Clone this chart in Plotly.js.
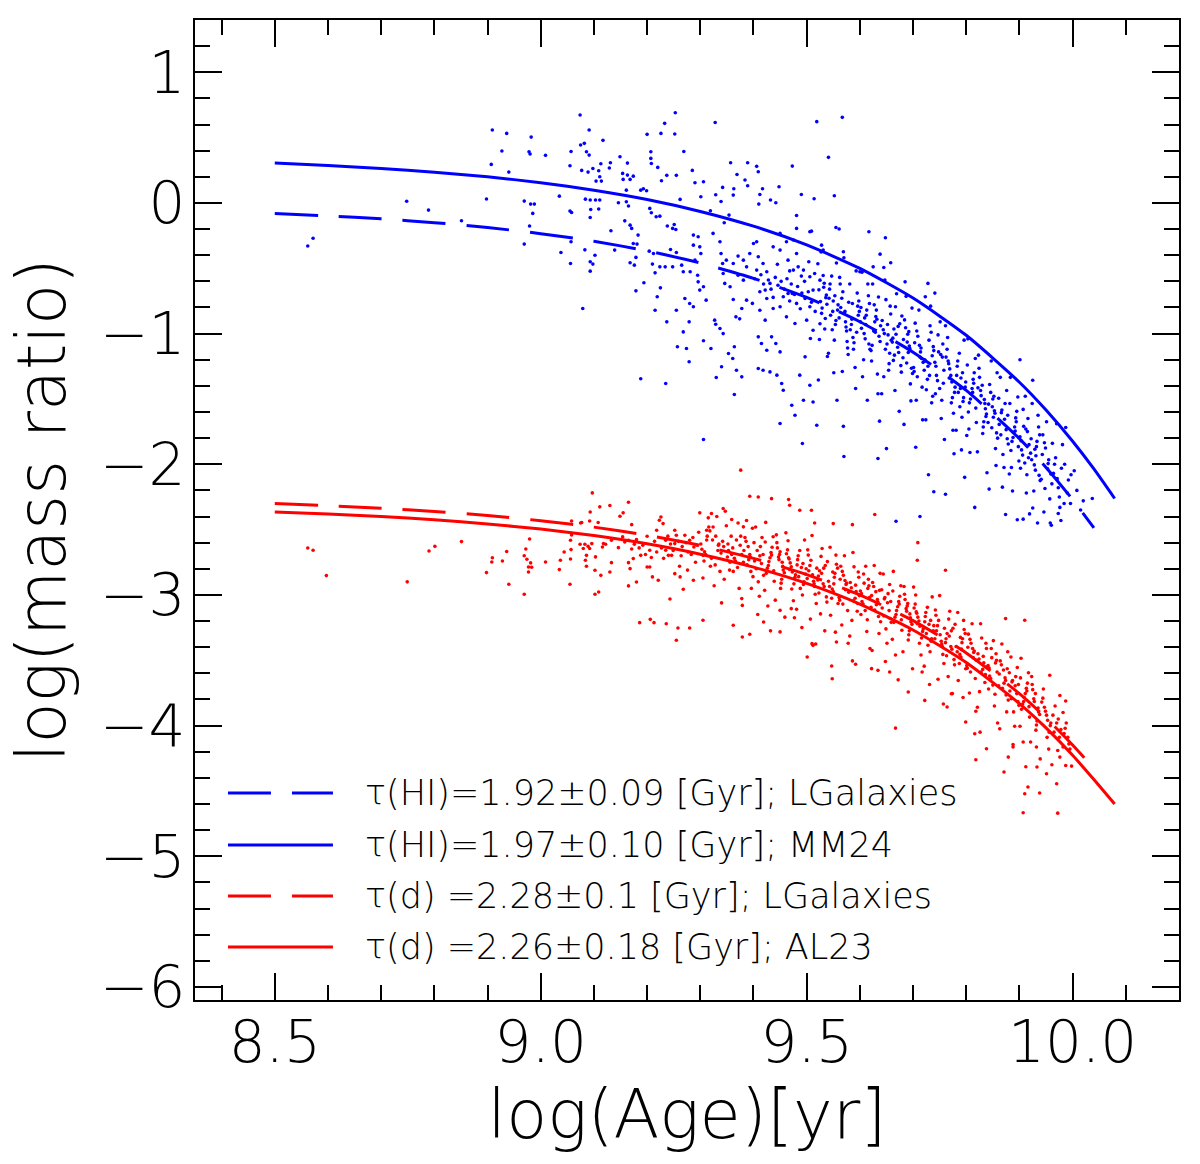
<!DOCTYPE html>
<html>
<head>
<meta charset="utf-8">
<script src="https://cdn.plot.ly/plotly-3.0.1.min.js"></script>
<style>
  html, body { margin: 0; padding: 0; background: #fff; }
  #chart { width: 1200px; height: 1164px; }
</style>
</head>
<body>
<div id="chart"></div>
<script>
// ----------------------------------------------------------
// model curves
// ----------------------------------------------------------

const blueSolidAge = [8.5,8.6,8.7,8.8,8.9,9.0,9.1,9.2,9.3,9.4,9.5,9.6,9.7,9.8,9.9,9.95,10.0,10.04,10.079];
const blueSolidRatio = [0.305,0.287,0.264,0.235,0.2,0.155,0.097,0.026,-0.065,-0.178,-0.321,-0.501,-0.728,-1.013,-1.372,-1.585,-1.824,-2.036,-2.262];

const blueDashAge = [8.5,8.6,8.7,8.8,8.9,9.0,9.1,9.2,9.3,9.4,9.5,9.6,9.7,9.8,9.9,9.95,10.0,10.04];
const blueDashRatio = [-0.08,-0.099,-0.122,-0.151,-0.188,-0.235,-0.293,-0.367,-0.46,-0.577,-0.723,-0.909,-1.142,-1.435,-1.804,-2.024,-2.27,-2.487];

const redSolidAge = [8.5,8.6,8.7,8.8,8.9,9.0,9.1,9.2,9.3,9.4,9.5,9.6,9.7,9.8,9.9,9.95,10.0,10.04,10.079];
const redSolidRatio = [-2.365,-2.381,-2.40,-2.425,-2.457,-2.496,-2.546,-2.609,-2.688,-2.787,-2.912,-3.07,-3.268,-3.517,-3.832,-4.018,-4.227,-4.413,-4.60];

const redDashAge = [8.5,8.6,8.7,8.8,8.9,9.0,9.1,9.2,9.3,9.4,9.5,9.6,9.7,9.8,9.9,9.95,10.0,10.032];
const redDashRatio = [-2.301,-2.317,-2.337,-2.361,-2.392,-2.432,-2.481,-2.543,-2.621,-2.72,-2.844,-3.0,-3.197,-3.444,-3.756,-3.941,-4.148,-4.292];

const legendLabels = [
    "τ(HI)=1.92±0.09 [Gyr]; LGalaxies",
    "τ(HI)=1.97±0.10 [Gyr]; MM24",
    "τ(d) =2.28±0.1 [Gyr]; LGalaxies",
    "τ(d) =2.26±0.18 [Gyr]; AL23"
];

// ----------------------------------------------------------
// galaxies: [log(Age), log(mass ratio)]
// ----------------------------------------------------------

const bluePts = [
[8.562,-0.33],[8.572,-0.27],[8.748,0.013],[8.789,-0.055],[8.851,-0.136],[8.898,0.03],[8.909,0.558],[8.936,0.532],[8.927,0.397],[8.907,0.295],[8.94,0.236],[8.982,0.504],[8.978,0.392],[8.98,0.374],[9.009,0.364],[8.969,-0.315],[8.969,0.014],[8.981,-0.009],[8.988,-0.009],[8.985,-0.08],[8.979,-0.177],
[9.074,0.673],[9.091,0.558],[9.075,0.443],[9.082,0.456],[9.057,0.394],[9.086,0.392],[9.091,0.366],[9.117,0.479],[9.055,0.285],[9.077,0.249],[9.089,0.236],[9.098,0.264],[9.109,0.246],[9.104,0.167],[9.111,0.2],[9.114,0.167],[9.113,0.3],[9.131,0.308],[9.129,0.267],[9.149,0.354],[9.163,0.305],[9.154,0.226],[9.163,0.213],[9.174,0.205],[9.155,0.18],[9.168,0.18],[9.161,0.098],[9.188,0.098],[9.193,0.108],[9.199,0.093],[9.2,0.525],[9.226,0.532],[9.252,0.527],[9.233,0.609],[9.253,0.69],[9.207,0.392],[9.207,0.341],[9.208,0.302],[9.22,0.272],[9.237,0.211],[9.227,0.17],[9.255,0.211],[9.269,0.394],[9.285,0.249],[9.29,0.154],[9.306,0.162],[9.328,0.616],
[9.262,0.027],[9.301,0.047],[9.329,0.063],[9.342,0.119],[9.357,0.308],[9.389,0.308],[9.406,0.28],[9.409,0.239],[9.369,0.218],[9.384,0.175],[9.389,0.131],[9.363,0.109],[9.362,0.06],[9.417,0.109],[9.412,0.065],[9.432,0.022],[9.448,0.124],[9.473,0.282],[9.49,0.065],[9.481,-0.096],[9.514,0.032],[9.519,0.622],
[9.035,0.052],[9.055,-0.062],[9.058,-0.073],[9.057,-0.297],[9.038,-0.379],[9.056,-0.463],[9.084,0.029],[9.093,0.022],[9.103,0.022],[9.111,0.022],[9.094,-0.05],[9.109,-0.047],[9.093,-0.111],[9.083,-0.359],[9.102,-0.4],[9.093,-0.45],[9.098,-0.468],[9.093,-0.522],[9.079,-0.808],
[9.132,-0.213],[9.146,0.001],[9.161,0.009],[9.165,-0.024],[9.158,-0.137],[9.168,-0.17],[9.171,-0.195],[9.183,-0.246],[9.174,-0.31],[9.181,-0.315],[9.168,-0.458],[9.176,-0.476],[9.179,-0.417],[9.139,-0.361],
[9.179,-0.673],[9.194,-0.611],[9.188,-1.346],[9.204,-0.369],[9.212,-0.387],[9.205,-0.042],[9.208,-0.075],[9.217,-0.106],[9.224,-0.101],
[9.21,-0.468],[9.215,-0.535],[9.224,-0.489],[9.234,-0.489],[9.225,-0.65],[9.219,-0.718],[9.215,-0.821],[9.237,-0.91],[9.235,-1.382],[9.248,-0.195],[9.254,-0.203],[9.251,-0.165],[9.238,-0.177],
[9.244,-0.356],[9.255,-0.379],[9.268,-0.527],[9.265,-0.476],[9.248,-0.489],[9.255,-0.821],[9.271,-0.731],[9.28,-0.77],[9.279,-0.91],[9.268,-0.987],[9.257,-1.101],[9.274,-1.114],[9.279,-1.216],
[9.287,-0.246],[9.296,-0.259],[9.287,-0.323],[9.299,-0.336],[9.301,-0.387],[9.29,-0.438],[9.281,-0.527],[9.295,-0.553],[9.296,-0.604],[9.306,-0.642],[9.299,-0.667],[9.311,-0.744],[9.287,-0.795],
[9.306,-1.055],[9.32,-1.114],[9.306,-1.811],[9.33,-1.336],
[9.324,-0.233],[9.337,-0.297],[9.339,-0.387],[9.342,-0.463],[9.349,-0.438],[9.362,-0.463],[9.371,-0.407],[9.381,-0.438],[9.387,-0.489],[9.371,-0.553],[9.381,-0.591],[9.343,-0.54],[9.346,-0.616],[9.356,-0.642],
[9.362,-0.739],[9.378,-0.808],[9.387,-0.744],[9.398,-0.769],[9.367,-0.872],[9.374,-0.887],[9.327,-0.897],[9.329,-0.928],[9.337,-0.961],[9.343,-1.0],[9.364,-1.101],[9.353,-1.152],[9.361,-1.191],[9.368,-1.28],[9.378,-1.331],[9.34,-1.254],[9.364,-1.466],
[9.4,-0.31],[9.406,-0.297],[9.393,-0.387],[9.409,-0.412],[9.418,-0.463],[9.406,-0.514],[9.425,-0.527],[9.431,-0.616],[9.422,-0.667],[9.412,-0.68],[9.425,-0.731],[9.437,-0.723],[9.412,-0.821],[9.422,-0.897],[9.437,-0.808],[9.45,-0.795],[9.456,-0.718],[9.465,-0.693],
[9.409,-1.025],[9.415,-1.076],[9.425,-1.127],[9.434,-1.025],[9.442,-1.076],[9.45,-1.14],[9.409,-1.267],[9.418,-1.28],[9.431,-1.293],[9.444,-1.318],[9.453,-1.382],[9.456,-1.433],[9.45,-1.688],[9.478,-1.625],[9.472,-1.548],[9.494,-1.51],[9.506,-1.395],[9.487,-1.318],[9.497,-1.178],[9.507,-1.037],[9.512,-1.523],[9.492,-1.841],[9.519,-1.701],
[9.437,-0.336],[9.45,-0.361],[9.462,-0.297],[9.481,-0.387],[9.475,-0.514],[9.465,-0.438],[9.484,-0.489],[9.494,-0.514],[9.506,-0.565],[9.515,-0.54],[9.525,-0.591],[9.473,-0.693],[9.481,-0.769],[9.497,-0.731],[9.506,-0.795],[9.512,-0.667],[9.462,-0.872],[9.478,-0.923],[9.5,-0.897],[9.512,-0.974],
[9.475,-0.284],[9.45,-0.233],[9.506,-0.221],[9.481,-0.195],
[9.402,-0.58],[9.414,-0.55],[9.419,-0.62],[9.428,-0.59],[9.433,-0.66],[9.441,-0.57],[9.446,-0.63],[9.452,-0.6],[9.458,-0.66],[9.463,-0.58],[9.468,-0.75],[9.471,-0.62],[9.477,-0.7],[9.483,-0.64],[9.488,-0.81],[9.491,-0.69],[9.496,-0.6],[9.503,-0.68],[9.509,-0.76],[9.516,-0.83],[9.445,-0.47],[9.468,-0.52],[9.49,-0.56],[9.504,-0.45],
[9.541,0.349],[9.567,0.655],[9.552,0.055],[9.509,-0.216],[9.555,-0.188],[9.617,-0.221],[9.648,-0.267],[9.638,-0.392],[9.658,-0.458],[9.625,-0.489],[9.645,-0.494],[9.685,-0.604],[9.728,-0.616],[9.723,-0.718],[9.569,-0.374],[9.6,-0.527],[9.528,-0.323],[9.531,-0.361],[9.319,-0.06],[9.354,-0.093],[9.345,-0.152],[9.339,0.011],[9.41,-0.009],[9.442,0.001],
[9.57,-1.94],[9.634,-1.956],[9.668,-2.436],[9.713,-2.4],[9.739,-2.21],[9.761,-2.23],[9.907,-2.42],[9.96,-2.467],[9.973,-2.377],[9.925,-1.357],[9.901,-1.2],[9.741,-0.69],[9.561,-0.2],
[9.533,-0.615],[9.524,-1.045],[9.537,-0.705],[9.529,-0.805],[9.521,-0.465],[9.535,-0.885],[9.526,-0.755],[9.531,-0.555],[9.539,-1.175],[9.523,-0.665],[9.528,-0.845],[9.534,-0.965],[9.527,-0.375],[9.538,-0.775],[9.522,-1.355],[9.532,-0.645],[9.525,-0.925],[9.536,-0.725],
[9.558,-0.82],[9.547,-0.56],[9.552,-1.05],[9.543,-0.66],[9.555,-0.9],[9.55,-0.75],[9.541,-1.15],[9.556,-0.46],[9.545,-0.86],[9.553,-0.71],[9.548,-0.97],[9.559,-0.78],[9.544,-0.62],[9.551,-1.3],[9.554,-0.93],[9.542,-0.73],[9.557,-1.51],[9.549,-0.83],
[9.566,-0.73],[9.575,-0.98],[9.562,-0.57],[9.571,-0.84],[9.578,-1.16],[9.568,-0.68],[9.573,-0.91],[9.564,-0.8],[9.576,-1.06],[9.57,-0.42],[9.561,-0.88],[9.579,-0.76],[9.567,-1.29],[9.574,-0.95],[9.563,-0.62],[9.572,-0.83],[9.577,-1.11],[9.569,-1.71],
[9.582,-0.97],[9.596,-0.79],[9.589,-1.07],[9.593,-0.52],[9.585,-0.89],[9.598,-0.75],[9.591,-1.26],[9.584,-0.93],[9.595,-0.69],[9.587,-1.03],[9.599,-0.83],[9.592,-1.42],[9.581,-0.62],[9.588,-1.12],[9.597,-0.86],[9.586,-0.77],[9.594,-0.99],
[9.618,-0.77],[9.607,-1.2],[9.612,-0.86],[9.603,-0.96],[9.615,-0.62],[9.61,-1.04],[9.601,-0.91],[9.616,-0.71],[9.605,-1.33],[9.613,-0.82],[9.608,-1.0],[9.619,-1.12],[9.604,-0.53],[9.611,-0.93],[9.614,-1.51],[9.602,-0.8],[9.617,-1.08],[9.609,-0.88],
[9.626,-0.98],[9.635,-0.72],[9.622,-1.21],[9.631,-0.82],[9.638,-1.06],[9.628,-0.91],[9.633,-1.31],[9.624,-0.62],[9.636,-1.02],[9.63,-0.87],[9.621,-1.13],[9.639,-0.94],[9.627,-0.78],[9.634,-1.46],[9.623,-1.09],[9.632,-0.89],[9.637,-1.67],[9.629,-0.99],
[9.642,-0.9],[9.656,-1.15],[9.649,-0.74],[9.653,-1.01],[9.645,-1.33],[9.658,-0.85],[9.651,-1.08],[9.644,-0.97],[9.655,-1.23],[9.647,-0.59],[9.659,-1.05],[9.652,-0.93],[9.641,-1.46],[9.648,-1.12],[9.657,-0.79],[9.646,-1.0],[9.654,-1.28],[9.65,-1.88],
[9.673,-1.145],[9.664,-0.965],[9.677,-1.245],[9.669,-0.695],[9.661,-1.065],[9.675,-0.925],[9.666,-1.435],[9.671,-1.105],[9.679,-0.865],[9.663,-1.205],[9.668,-1.005],[9.674,-1.595],[9.667,-0.795],[9.678,-1.295],[9.662,-1.035],[9.672,-0.945],[9.665,-1.165],
[9.686,-0.955],[9.695,-1.385],[9.682,-1.045],[9.691,-1.145],[9.698,-0.805],[9.688,-1.225],[9.693,-1.095],[9.684,-0.895],[9.696,-1.515],[9.69,-1.005],[9.681,-1.185],[9.699,-1.305],[9.687,-0.715],[9.694,-1.115],[9.683,-1.695],[9.692,-0.985],[9.697,-1.265],[9.689,-1.065],
[9.713,-1.18],[9.704,-0.92],[9.717,-1.41],[9.709,-1.02],[9.701,-1.26],[9.715,-1.11],[9.706,-1.51],[9.711,-0.82],[9.719,-1.22],[9.703,-1.07],[9.708,-1.33],[9.714,-1.14],[9.707,-0.98],[9.718,-1.66],[9.702,-1.29],[9.712,-1.09],[9.705,-1.87],[9.716,-1.19],
[9.738,-1.1],[9.727,-1.35],[9.732,-0.94],[9.723,-1.21],[9.735,-1.53],[9.73,-1.05],[9.721,-1.28],[9.736,-1.17],[9.725,-1.43],[9.733,-0.79],[9.728,-1.25],[9.739,-1.13],[9.724,-1.66],[9.731,-1.32],[9.734,-0.99],[9.722,-1.2],[9.737,-1.48],[9.729,-2.08],
[9.746,-1.36],[9.755,-1.18],[9.742,-1.46],[9.751,-0.91],[9.758,-1.28],[9.748,-1.14],[9.753,-1.65],[9.744,-1.32],[9.756,-1.08],[9.75,-1.42],[9.741,-1.22],[9.759,-1.81],[9.747,-1.01],[9.754,-1.51],[9.743,-1.25],[9.752,-1.16],[9.757,-1.38],
[9.762,-1.18],[9.776,-1.61],[9.769,-1.27],[9.773,-1.37],[9.765,-1.03],[9.778,-1.45],[9.771,-1.32],[9.764,-1.12],[9.775,-1.74],[9.767,-1.23],[9.779,-1.41],[9.772,-1.53],[9.761,-0.94],[9.768,-1.34],[9.777,-1.92],[9.766,-1.21],[9.774,-1.49],
[9.798,-1.41],[9.787,-1.15],[9.792,-1.64],[9.783,-1.25],[9.795,-1.49],[9.79,-1.34],[9.781,-1.74],[9.796,-1.05],[9.785,-1.45],[9.793,-1.3],[9.788,-1.56],[9.799,-1.37],[9.784,-1.21],[9.791,-1.89],[9.794,-1.52],[9.782,-1.32],[9.797,-2.1],[9.789,-1.42],
[9.813,-1.35],[9.804,-1.6],[9.817,-1.19],[9.809,-1.46],[9.801,-1.78],[9.815,-1.3],[9.806,-1.53],[9.811,-1.42],[9.819,-1.68],[9.803,-1.04],[9.808,-1.5],[9.814,-1.38],[9.807,-1.91],[9.818,-1.57],[9.802,-1.24],[9.812,-1.45],[9.805,-1.73],[9.816,-2.33],
[9.838,-1.615],[9.827,-1.435],[9.832,-1.715],[9.823,-1.165],[9.835,-1.535],[9.83,-1.395],[9.821,-1.905],[9.836,-1.575],[9.825,-1.335],[9.833,-1.675],[9.828,-1.475],[9.839,-2.065],[9.824,-1.265],[9.831,-1.765],[9.834,-1.505],[9.822,-1.415],[9.837,-1.635],
[9.846,-1.45],[9.855,-1.88],[9.842,-1.54],[9.851,-1.64],[9.858,-1.3],[9.848,-1.72],[9.853,-1.59],[9.844,-1.39],[9.856,-2.01],[9.85,-1.5],[9.841,-1.68],[9.859,-1.8],[9.847,-1.21],[9.854,-1.61],[9.843,-2.19],[9.852,-1.48],[9.857,-1.76],[9.849,-1.56],
[9.862,-1.695],[9.876,-1.435],[9.869,-1.925],[9.873,-1.535],[9.865,-1.775],[9.878,-1.625],[9.871,-2.025],[9.864,-1.335],[9.875,-1.735],[9.867,-1.585],[9.879,-1.845],[9.872,-1.655],[9.861,-1.495],[9.868,-2.175],[9.877,-1.805],[9.866,-1.605],[9.874,-2.385],
[9.893,-1.645],[9.884,-1.895],[9.897,-1.485],[9.889,-1.755],[9.881,-2.075],[9.895,-1.595],[9.886,-1.825],[9.891,-1.715],[9.899,-1.975],[9.883,-1.335],[9.888,-1.795],[9.894,-1.675],[9.887,-2.205],[9.898,-1.865],[9.882,-1.535],[9.892,-1.745],[9.885,-2.025],[9.896,-2.425],
[9.906,-1.93],[9.915,-1.75],[9.902,-2.03],[9.911,-1.48],[9.918,-1.85],[9.908,-1.71],[9.913,-2.22],[9.904,-1.89],[9.916,-1.65],[9.91,-1.99],[9.901,-1.79],[9.919,-2.38],[9.907,-1.58],[9.914,-2.08],[9.903,-1.82],[9.912,-1.73],[9.917,-1.95],
[9.938,-1.775],[9.927,-2.205],[9.932,-1.865],[9.923,-1.965],[9.935,-1.625],[9.93,-2.045],[9.921,-1.915],[9.936,-1.715],[9.925,-2.335],[9.933,-1.825],[9.928,-2.005],[9.939,-2.125],[9.924,-1.535],[9.931,-1.935],[9.934,-2.45],[9.922,-1.805],[9.937,-2.085],[9.929,-1.885],
[9.953,-2.035],[9.944,-1.775],[9.957,-2.265],[9.949,-1.875],[9.941,-2.115],[9.955,-1.965],[9.946,-2.365],[9.951,-1.675],[9.959,-2.075],[9.943,-1.925],[9.948,-2.185],[9.954,-1.995],[9.947,-1.835],[9.958,-2.45],
[9.966,-2.0],[9.975,-2.25],[9.962,-1.84],[9.971,-2.11],[9.978,-2.43],[9.968,-1.95],[9.973,-2.18],[9.964,-2.07],[9.976,-2.33],[9.97,-1.69],[9.961,-2.15],[9.979,-2.03],
[9.981,-1.85],[9.985,-2.0],[9.992,-2.12],[9.99,-2.22],[9.996,-2.3],[10.003,-2.05],[10.008,-2.2],[10.015,-2.35],[10.02,-2.28],[10.037,-2.262],[9.987,-1.719],[9.984,-2.3],[9.997,-2.08]
];

const redPts = [
[8.562,-2.641],[8.572,-2.658],[8.597,-2.852],[8.749,-2.9],[8.79,-2.664],[8.801,-2.628],[8.851,-2.592],[8.898,-2.829],[8.908,-2.748],[8.909,-2.715],[8.928,-2.74],[8.936,-2.668],[8.94,-2.918],[8.969,-2.7],[8.969,-2.995],[8.972,-2.648],[8.974,-2.727],[8.977,-2.786],[8.977,-2.824],[8.979,-2.572],[8.981,-2.755],[8.983,-2.788],[9.009,-2.748],[9.035,-2.806],[9.037,-2.735],[9.044,-2.671],[9.055,-2.918],[9.056,-2.582],[9.058,-2.541],[9.058,-2.434],[9.056,-2.725],[9.057,-2.653],
[9.075,-2.449],[9.077,-2.446],[9.092,-2.434],[9.093,-2.365],[9.097,-2.219],[9.108,-2.446],[9.111,-2.326],[9.13,-2.316],[9.149,-2.398],[9.155,-2.372],[9.165,-2.291],[9.171,-2.462],[9.074,-2.612],[9.083,-2.612],[9.089,-2.628],[9.096,-2.607],[9.08,-2.645],[9.086,-2.697],[9.092,-2.645],[9.103,-2.709],[9.084,-2.735],[9.086,-2.781],[9.102,-2.811],[9.113,-2.85],[9.102,-2.995],[9.109,-2.977],
[9.116,-2.633],[9.122,-2.612],[9.133,-2.582],[9.118,-2.607],[9.133,-2.753],[9.13,-2.824],[9.146,-2.638],[9.158,-2.594],[9.154,-2.556],[9.165,-2.582],[9.171,-2.648],[9.176,-2.612],[9.165,-2.753],[9.174,-2.722],[9.168,-2.799],[9.165,-2.931],[9.18,-2.577],[9.188,-2.697],[9.2,-2.551],[9.205,-2.658],[9.208,-2.714],[9.218,-2.671],[9.223,-2.429],[9.226,-2.403],[9.218,-2.505],[9.23,-2.454],[9.235,-2.582],[9.235,-2.658],[9.246,-2.697],[9.252,-2.607],[9.255,-2.543],[9.252,-2.505],[9.271,-2.543],[9.28,-2.582],[9.277,-2.671],[9.288,-2.633],[9.2,-2.786],[9.21,-2.862],[9.221,-2.888],[9.252,-2.837],[9.262,-2.862],[9.268,-2.957],[9.243,-3.031],[9.186,-3.212],[9.206,-3.187],[9.213,-3.212],[9.236,-3.22],[9.255,-3.347],[9.258,-3.253],[9.28,-3.253],[9.24,-2.697],[9.205,-2.786],[9.18,-2.901],
[9.192,-2.62],[9.197,-2.69],[9.214,-2.59],[9.227,-2.64],[9.231,-2.72],[9.244,-2.61],[9.249,-2.66],[9.259,-2.59],[9.264,-2.7],[9.266,-2.63],[9.273,-2.6],[9.283,-2.69],[9.286,-2.56],[9.291,-2.75],[9.294,-2.62],[9.297,-2.52],[9.185,-2.64],[9.239,-2.55],[9.261,-2.78],[9.276,-2.81],
[9.376,-2.045],[9.393,-2.245],[9.409,-2.25],[9.434,-2.263],[9.466,-2.27],[9.628,-2.385],[9.709,-2.6],[9.761,-2.811],[9.91,-3.194],[9.957,-3.615],[9.987,-3.812],[9.305,-3.194],[9.379,-3.322],[9.501,-3.475],[9.548,-3.641],[9.667,-4.019],[9.818,-4.261],[9.907,-4.667],[9.972,-4.67],[9.871,-4.355],[9.586,-2.462],[9.708,-2.735],[9.874,-3.181],[9.91,-4.521],[9.938,-4.516],[9.97,-4.445],[9.987,-4.305],[9.951,-4.368],[9.933,-4.317],[9.916,-4.47],[9.888,-4.164],[9.932,-4.164],[9.816,-4.062],[9.838,-4.177],[9.879,-4.241],[9.976,-4.241],[9.982,-4.164],[9.764,-3.858],[9.799,-3.973],[9.722,-3.807],[9.772,-3.756],[9.691,-3.743],[9.656,-3.59],[9.634,-3.577],[9.547,-3.544],[9.592,-3.531],[9.622,-3.564],[9.512,-3.386],[9.45,-3.283],[9.393,-3.301],[9.362,-3.232],[9.34,-3.061],[9.378,-3.028],[9.419,-3.207],[9.45,-3.118],[9.51,-3.373],[9.556,-3.36],[9.471,-3.105],[9.305,-2.697],[9.287,-2.888],[9.312,-2.505],[9.343,-2.339],[9.299,-2.372],[9.321,-2.377],[9.359,-2.423],[9.381,-2.479],[9.468,-2.314],[9.487,-2.352],[9.509,-2.352],[9.55,-2.454],[9.515,-2.449],
[9.318,-2.51],[9.307,-2.74],[9.312,-2.58],[9.303,-2.65],[9.315,-2.41],[9.31,-2.69],[9.301,-2.61],[9.316,-2.48],[9.305,-2.87],[9.313,-2.55],[9.308,-2.67],[9.319,-2.78],
[9.333,-2.66],[9.324,-2.48],[9.337,-2.82],[9.329,-2.55],[9.321,-2.72],[9.335,-2.61],[9.326,-2.93],[9.331,-2.4],[9.339,-2.68],[9.323,-2.58],[9.328,-2.77],[9.334,-2.62],
[9.342,-2.59],[9.356,-2.75],[9.349,-2.47],[9.353,-2.66],[9.345,-2.88],[9.358,-2.55],[9.351,-2.71],[9.344,-2.63],[9.355,-2.81],[9.347,-2.36],[9.359,-2.69],[9.352,-2.61],
[9.366,-2.74],[9.375,-2.62],[9.362,-2.82],[9.371,-2.45],[9.378,-2.69],[9.368,-2.58],[9.373,-2.95],[9.364,-2.72],[9.376,-2.55],[9.37,-2.79],[9.361,-2.64],[9.379,-3.08],
[9.386,-2.59],[9.395,-2.82],[9.382,-2.66],[9.391,-2.73],[9.398,-2.49],[9.388,-2.77],[9.393,-2.69],[9.384,-2.56],[9.396,-2.95],[9.39,-2.63],[9.381,-2.75],[9.399,-2.86],[9.387,-2.43],[9.394,-2.71],
[9.402,-2.74],[9.416,-2.56],[9.409,-2.9],[9.413,-2.63],[9.405,-2.8],[9.418,-2.69],[9.411,-3.01],[9.404,-2.48],[9.415,-2.76],[9.407,-2.66],[9.419,-2.85],[9.412,-2.7],[9.401,-2.6],[9.408,-3.15],
[9.433,-2.675],[9.424,-2.835],[9.437,-2.555],[9.429,-2.745],[9.421,-2.965],[9.435,-2.635],[9.426,-2.795],[9.431,-2.715],[9.439,-2.895],[9.423,-2.445],[9.428,-2.775],[9.434,-2.695],[9.427,-3.085],[9.438,-2.815],[9.422,-2.595],[9.432,-3.275],
[9.458,-2.83],[9.447,-2.71],[9.452,-2.91],[9.443,-2.54],[9.455,-2.78],[9.45,-2.67],[9.441,-3.04],[9.456,-2.81],[9.445,-2.64],[9.453,-2.88],[9.448,-2.73],[9.459,-3.17],[9.444,-2.6],[9.451,-2.95],[9.454,-2.75],[9.449,-2.69],
[9.462,-2.685],[9.476,-2.915],[9.469,-2.755],[9.473,-2.825],[9.465,-2.585],[9.478,-2.865],[9.471,-2.785],[9.464,-2.655],[9.475,-3.045],[9.467,-2.725],[9.479,-2.845],[9.472,-2.955],[9.461,-2.525],[9.468,-2.805],[9.477,-3.175],[9.466,-2.715],
[9.498,-2.84],[9.487,-2.66],[9.492,-3.0],[9.483,-2.73],[9.495,-2.9],[9.49,-2.79],[9.481,-3.11],[9.496,-2.58],[9.485,-2.86],[9.493,-2.76],[9.488,-2.95],[9.499,-2.8],[9.484,-2.7],[9.491,-3.25],[9.494,-2.92],[9.482,-2.77],
[9.506,-2.775],[9.515,-2.935],[9.502,-2.655],[9.511,-2.845],[9.518,-3.065],[9.508,-2.735],[9.513,-2.895],[9.504,-2.815],[9.516,-2.995],[9.51,-2.545],[9.501,-2.875],[9.519,-2.795],[9.507,-3.185],[9.514,-2.915],[9.503,-2.695],[9.517,-3.375],
[9.533,-2.935],[9.524,-2.815],[9.537,-3.015],[9.529,-2.645],[9.521,-2.885],[9.535,-2.775],[9.526,-3.145],[9.531,-2.915],[9.539,-2.745],[9.523,-2.985],[9.528,-2.835],[9.534,-3.275],[9.527,-2.705],[9.538,-3.055],[9.522,-2.855],[9.532,-2.795],
[9.558,-2.795],[9.547,-3.025],[9.552,-2.865],[9.543,-2.935],[9.555,-2.695],[9.55,-2.975],[9.541,-2.895],[9.556,-2.765],[9.545,-3.155],[9.553,-2.835],[9.548,-2.955],[9.559,-3.065],[9.544,-2.635],[9.551,-2.915],[9.554,-3.285],[9.549,-2.825],
[9.573,-2.96],[9.564,-2.78],[9.577,-3.12],[9.569,-2.85],[9.561,-3.02],[9.575,-2.91],[9.566,-3.23],[9.571,-2.7],[9.579,-2.98],[9.563,-2.88],[9.568,-3.07],[9.574,-2.92],[9.567,-2.82],[9.578,-3.37],[9.562,-3.04],[9.572,-2.89],
[9.582,-2.905],[9.596,-3.065],[9.589,-2.785],[9.593,-2.975],[9.585,-3.195],[9.598,-2.865],[9.591,-3.025],[9.584,-2.945],[9.595,-3.125],[9.587,-2.675],[9.599,-3.005],[9.592,-2.925],[9.581,-3.315],[9.588,-3.045],[9.597,-2.825],[9.586,-3.505],
[9.606,-3.07],[9.615,-2.95],[9.602,-3.15],[9.611,-2.78],[9.618,-3.02],[9.608,-2.91],[9.613,-3.28],[9.604,-3.05],[9.616,-2.88],[9.61,-3.12],[9.601,-2.97],[9.619,-3.41],[9.607,-2.84],[9.614,-3.19],[9.603,-2.99],[9.617,-2.93],
[9.626,-2.935],[9.635,-3.165],[9.622,-3.005],[9.631,-3.075],[9.638,-2.835],[9.628,-3.115],[9.633,-3.035],[9.624,-2.905],[9.636,-3.295],[9.63,-2.975],[9.621,-3.095],[9.639,-3.205],[9.627,-2.775],[9.634,-3.055],[9.623,-3.425],[9.637,-2.965],
[9.642,-3.1],[9.656,-2.92],[9.649,-3.26],[9.653,-2.99],[9.645,-3.16],[9.658,-3.05],[9.651,-3.37],[9.644,-2.84],[9.655,-3.12],[9.647,-3.02],[9.659,-3.21],[9.652,-3.06],[9.641,-2.96],[9.648,-3.51],[9.657,-3.18],[9.646,-3.03],
[9.673,-3.05],[9.664,-3.21],[9.677,-2.93],[9.669,-3.12],[9.661,-3.34],[9.675,-3.01],[9.666,-3.17],[9.671,-3.09],[9.679,-3.27],[9.663,-2.82],[9.668,-3.15],[9.674,-3.07],[9.667,-3.46],[9.678,-3.19],[9.662,-2.97],[9.672,-3.65],
[9.698,-3.225],[9.687,-3.105],[9.692,-3.305],[9.683,-2.935],[9.695,-3.175],[9.69,-3.065],[9.681,-3.435],[9.696,-3.205],[9.685,-3.035],[9.693,-3.275],[9.688,-3.125],[9.699,-3.565],[9.684,-2.995],[9.691,-3.345],[9.694,-3.145],[9.689,-3.085],
[9.702,-3.1],[9.716,-3.33],[9.709,-3.17],[9.713,-3.24],[9.705,-3.0],[9.718,-3.28],[9.711,-3.2],[9.704,-3.07],[9.715,-3.46],[9.707,-3.14],[9.719,-3.26],[9.712,-3.37],[9.701,-2.94],[9.708,-3.22],[9.717,-3.59],[9.706,-3.13],
[9.738,-3.275],[9.727,-3.095],[9.732,-3.435],[9.723,-3.165],[9.735,-3.335],[9.73,-3.225],[9.721,-3.545],[9.736,-3.015],[9.725,-3.295],[9.733,-3.195],[9.728,-3.385],[9.739,-3.235],[9.724,-3.135],[9.731,-3.685],[9.734,-3.355],[9.722,-3.205],
[9.746,-3.235],[9.755,-3.395],[9.742,-3.115],[9.751,-3.305],[9.758,-3.525],[9.748,-3.195],[9.753,-3.355],[9.744,-3.275],[9.756,-3.455],[9.75,-3.005],[9.741,-3.335],[9.759,-3.255],[9.747,-3.645],[9.754,-3.375],[9.743,-3.155],[9.757,-3.835],
[9.773,-3.415],[9.764,-3.295],[9.777,-3.495],[9.769,-3.125],[9.761,-3.365],[9.775,-3.255],[9.766,-3.625],[9.771,-3.395],[9.779,-3.225],[9.763,-3.465],[9.768,-3.315],[9.774,-3.755],[9.767,-3.185],[9.778,-3.535],[9.762,-3.335],[9.772,-3.275],
[9.798,-3.295],[9.787,-3.525],[9.792,-3.365],[9.783,-3.435],[9.795,-3.195],[9.79,-3.475],[9.781,-3.395],[9.796,-3.265],[9.785,-3.655],[9.793,-3.335],[9.788,-3.455],[9.799,-3.565],[9.784,-3.135],[9.791,-3.415],[9.794,-3.785],[9.789,-3.325],
[9.813,-3.48],[9.804,-3.3],[9.817,-3.64],[9.809,-3.37],[9.801,-3.54],[9.815,-3.43],[9.806,-3.75],[9.811,-3.22],[9.819,-3.5],[9.803,-3.4],[9.808,-3.59],[9.814,-3.44],[9.807,-3.34],[9.818,-3.89],[9.802,-3.56],[9.812,-3.41],
[9.822,-3.45],[9.836,-3.61],[9.829,-3.33],[9.833,-3.52],[9.825,-3.74],[9.838,-3.41],[9.831,-3.57],[9.824,-3.49],[9.835,-3.67],[9.827,-3.22],[9.839,-3.55],[9.832,-3.47],[9.821,-3.86],[9.828,-3.59],[9.837,-3.37],[9.826,-4.05],
[9.846,-3.64],[9.855,-3.52],[9.842,-3.72],[9.851,-3.35],[9.858,-3.59],[9.848,-3.48],[9.853,-3.85],[9.844,-3.62],[9.856,-3.45],[9.85,-3.69],[9.841,-3.54],[9.859,-3.98],[9.847,-3.41],[9.854,-3.76],[9.843,-3.56],[9.857,-3.5],
[9.866,-3.535],[9.875,-3.765],[9.862,-3.605],[9.871,-3.675],[9.878,-3.435],[9.868,-3.715],[9.873,-3.635],[9.864,-3.505],[9.876,-3.895],[9.87,-3.575],[9.861,-3.695],[9.879,-3.805],[9.867,-3.375],[9.874,-3.655],[9.863,-4.025],[9.877,-3.565],
[9.882,-3.735],[9.896,-3.555],[9.889,-3.895],[9.893,-3.625],[9.885,-3.795],[9.898,-3.685],[9.891,-4.005],[9.884,-3.475],[9.895,-3.755],[9.887,-3.655],[9.899,-3.845],[9.892,-3.695],[9.881,-3.595],[9.888,-4.145],[9.897,-3.815],[9.886,-3.665],
[9.913,-3.715],[9.904,-3.875],[9.917,-3.595],[9.909,-3.785],[9.901,-4.005],[9.915,-3.675],[9.906,-3.835],[9.911,-3.755],[9.919,-3.935],[9.903,-3.485],[9.908,-3.815],[9.914,-3.735],[9.907,-4.125],[9.918,-3.855],[9.902,-3.635],[9.912,-4.315],
[9.938,-3.915],[9.927,-3.795],[9.932,-3.995],[9.923,-3.625],[9.935,-3.865],[9.93,-3.755],[9.921,-4.125],[9.936,-3.895],[9.925,-3.725],[9.933,-3.965],[9.928,-3.815],[9.939,-4.255],[9.924,-3.685],[9.931,-4.035],
[9.942,-3.82],[9.956,-4.05],[9.949,-3.89],[9.953,-3.96],[9.945,-3.72],[9.958,-4.0],[9.951,-3.92],[9.944,-3.79],[9.955,-4.18],[9.947,-3.86],[9.959,-3.98],[9.952,-4.09],
[9.978,-4.03],[9.967,-3.85],[9.972,-4.19],[9.963,-3.92],[9.975,-4.09],[9.97,-3.98],[9.961,-4.3],[9.976,-3.77],[9.965,-4.05],[9.973,-3.95],
[9.986,-4.02],[9.995,-4.18],[9.982,-3.9],[9.991,-4.09],[9.998,-4.31],[9.988,-3.98],[9.993,-4.14],[9.984,-4.06]
];

const BLUE = "#0000ff";
const RED = "#ff0000";
const FONT = "DejaVu Sans, Liberation Sans, sans-serif";

// ----------------------------------------------------------
// traces
// ----------------------------------------------------------

function dots(pts, color){
    return {
        x: pts.map(p => p[0]),
        y: pts.map(p => p[1]),
        type: "scatter",
        mode: "markers",
        marker: { color: color, size: 3.6, line: { width: 0 } },
        hoverinfo: "skip",
        showlegend: false
    };
}

function curve(x, y, color, dash){
    return {
        x: x,
        y: y,
        type: "scatter",
        mode: "lines",
        line: { color: color, width: 3, dash: dash, shape: "spline", smoothing: 0.6 },
        hoverinfo: "skip",
        showlegend: false
    };
}

const DASH = "43px,21px";

const traces = [
    dots(bluePts, BLUE),
    dots(redPts, RED),
    curve(blueDashAge, blueDashRatio, BLUE, DASH),
    curve(blueSolidAge, blueSolidRatio, BLUE, "solid"),
    curve(redDashAge, redDashRatio, RED, DASH),
    curve(redSolidAge, redSolidRatio, RED, "solid")
];

// ----------------------------------------------------------
// legend drawn inside the frame, lower left
// ----------------------------------------------------------

const legendColors = [BLUE, BLUE, RED, RED];
const legendDash = [DASH, "solid", DASH, "solid"];
const legendRowY = [0.2112, 0.1582, 0.1061, 0.0541];

const shapes = legendLabels.map((t, i) => ({
    type: "line", xref: "paper", yref: "paper",
    x0: 0.0335, x1: 0.1402, y0: legendRowY[i], y1: legendRowY[i],
    line: { color: legendColors[i], width: 3, dash: legendDash[i] }
}));

const annotations = legendLabels.map((t, i) => ({
    text: t, xref: "paper", yref: "paper",
    x: 0.1707, y: legendRowY[i], xanchor: "left", yanchor: "middle",
    showarrow: false,
    font: { family: FONT, size: 35, color: "#000", weight: 200 }
}));

// ----------------------------------------------------------
// axes
// ----------------------------------------------------------

function axisBase(){
    return {
        showgrid: false,
        zeroline: false,
        showline: true,
        linecolor: "#000",
        linewidth: 2,
        mirror: "allticks",
        ticks: "inside",
        ticklen: 27,
        tickwidth: 2,
        tickcolor: "#000",
        tickfont: { family: FONT, size: 58, color: "#000", weight: 200 }
    };
}

const xaxis = Object.assign(axisBase(), {
    range: [8.35, 10.2],
    tick0: 8.5,
    dtick: 0.5,
    tickformat: ".1f",
    ticklabelstandoff: -10,
    minor: { dtick: 0.1, tick0: 8.5, ticks: "inside", ticklen: 15, tickwidth: 2, tickcolor: "#000" },
    title: { text: "log(Age)[yr]", font: { family: FONT, size: 67, color: "#000", weight: 200 }, standoff: 0 }
});

const yaxis = Object.assign(axisBase(), {
    range: [-6.1, 1.4],
    tick0: 0,
    dtick: 1,
    ticklabelstandoff: -4,
    minor: { dtick: 0.2, tick0: 0, ticks: "inside", ticklen: 15, tickwidth: 2, tickcolor: "#000" },
    title: { text: "log(mass ratio)", font: { family: FONT, size: 67, color: "#000", weight: 200 }, standoff: 12 }
});

const layout = {
    width: 1200,
    height: 1164,
    margin: { l: 195, r: 21, t: 20, b: 164 },
    paper_bgcolor: "#fff",
    plot_bgcolor: "#fff",
    showlegend: false,
    xaxis: xaxis,
    yaxis: yaxis,
    shapes: shapes,
    annotations: annotations,
    font: { family: FONT, color: "#000" }
};

Plotly.newPlot("chart", traces, layout, { displayModeBar: false, staticPlot: true });
</script>
</body>
</html>
